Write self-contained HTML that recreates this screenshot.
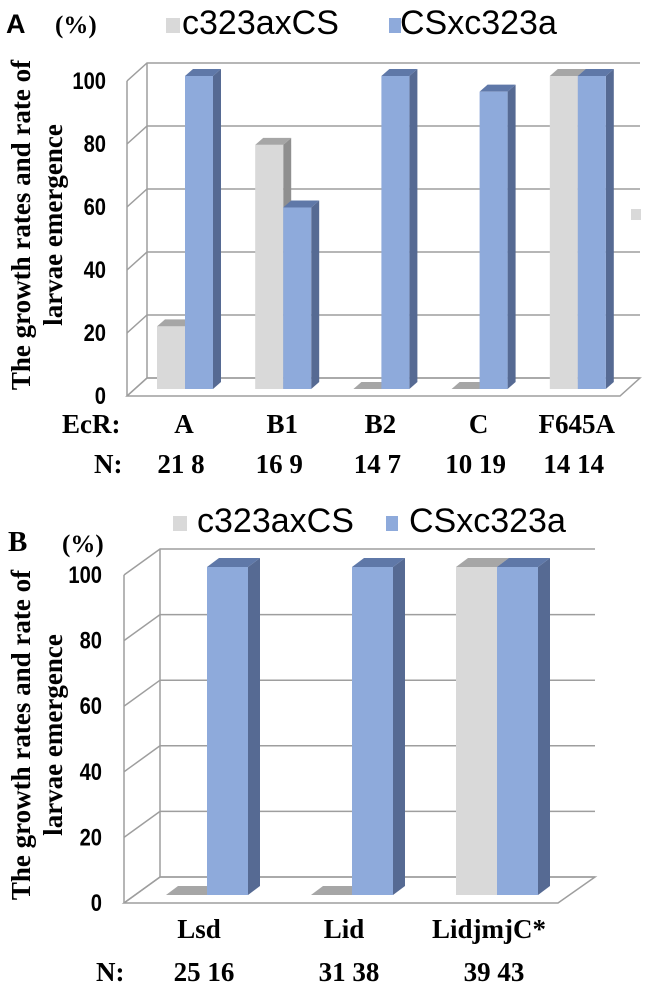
<!DOCTYPE html>
<html><head><meta charset="utf-8"><style>
html,body{margin:0;padding:0;background:#fff;}
svg{display:block;}
.serif{font-family:"Liberation Serif",serif;font-weight:bold;}
.sans{font-family:"Liberation Sans",sans-serif;}
</style></head><body>
<svg id="fig" width="650" height="1000" viewBox="0 0 650 1000" xmlns="http://www.w3.org/2000/svg"></svg>
<script>
const catsA = ["A","B1","B2","C","F645A"];
const seriesA1 = [20,78,0,0,100];
const seriesA2 = [100,58,100,95,100];
const nA = ["21  8","16   9","14  7","10 19","14 14"];
const catsB = ["Lsd","Lid","LidjmjC*"];
const seriesB1 = [0,0,100];
const seriesB2 = [100,100,100];
const nB = ["25 16","31 38","39  43"];
const ticks = [0,20,40,60,80,100];
const legendNames = ["c323axCS","CSxc323a"];

const NS="http://www.w3.org/2000/svg";
const svg=document.getElementById('fig');
function mk(tag,attrs,parent,text){const e=document.createElementNS(NS,tag);for(const k in attrs)e.setAttribute(k,attrs[k]);if(text!==undefined)e.textContent=text;(parent||svg).appendChild(e);return e;}

function panel(cfg){
  const g=mk('g',{});
  
  
  const yBack=v=>cfg.back0-v*cfg.backScale;
  const yFront=v=>cfg.front0-v*cfg.backScale;
  ticks.forEach(t=>{
    const l=mk('polyline',{points:`${cfg.fx},${yFront(t)} ${cfg.bx},${yBack(t)} ${cfg.bxr},${yBack(t)}`,fill:'none',stroke:'#9e9e9e','stroke-width':1.5},g);
    
    
    const tx=mk('text',{y:yFront(t)+8,'text-anchor':'end','font-size':24,class:'sans','font-weight':'bold',transform:`scale(0.84,1)`},g,String(t));
    tx.setAttribute('x',(cfg.fx-cfg.tickGap)/0.84);
    
    
  });
  const ax=mk('line',{x1:cfg.fx,y1:yFront(0),x2:cfg.fx,y2:yFront(100),stroke:'#9e9e9e','stroke-width':1.5},g);
  
  mk('line',{x1:cfg.bx,y1:yBack(0),x2:cfg.bx,y2:yBack(100),stroke:'#9e9e9e','stroke-width':1.5},g);
  const fl=mk('polygon',{points:`${cfg.fx},${yFront(0)} ${cfg.bx},${yBack(0)} ${cfg.bxr},${yBack(0)} ${cfg.fxr},${yFront(0)}`,fill:'none',stroke:'#9e9e9e','stroke-width':1.5},g);
  
  const bar=(x,v,cols,nm)=>{
    const w=cfg.bw,b=cfg.barBase,h=v*cfg.barScale,dx=cfg.cdx,dy=cfg.cdy;
    const bg=mk('g',{},g);
    
    
    mk('polygon',{points:`${x+w},${b-h} ${x+w+dx},${b-h-dy} ${x+w+dx},${b-dy} ${x+w},${b}`,fill:cols[2]},bg);
    mk('polygon',{points:`${x},${b-h} ${x+dx},${b-h-dy} ${x+w+dx},${b-h-dy} ${x+w},${b-h}`,fill:cols[1]},bg);
    if(h>0.5) mk('rect',{x:x,y:b-h,width:w,height:h,fill:cols[0]},bg);
  };
  const gray=['#d9d9d9','#a6a6a6','#8f8f8f'], blue=['#8eaadb','#5f78a8','#566a93'];
  cfg.cats.forEach((c,i)=>{
    const x0=cfg.g0+i*cfg.gs;
    bar(x0-cfg.bw,cfg.s1[i],gray,'bar-'+legendNames[0]+'-'+c);
    bar(x0,cfg.s2[i],blue,'bar-'+legendNames[1]+'-'+c);
    const lt=mk('text',{x:x0+cfg.lblOff,y:cfg.lblY,'text-anchor':'middle','font-size':27,class:'serif'},g,c);
    
    const nt=mk('text',{x:x0+cfg.nOff,y:cfg.nY,'text-anchor':'middle','font-size':27,class:'serif','xml:space':'preserve'},g,cfg.n[i]);
    
  });
}

panel({name:'panel-a',cats:catsA,s1:seriesA1,s2:seriesA2,n:nA,
  fx:127,fxr:620,bx:147,bxr:640,back0:378,front0:396,backScale:3.15,tickGap:21,
  barBase:389,barScale:3.13,bw:28,cdx:8,cdy:7,g0:185,gs:98.2,
  lblOff:-1,lblY:433,nOff:-4,nY:473});
panel({name:'panel-b',cats:catsB,s1:seriesB1,s2:seriesB2,n:nB,
  fx:124,fxr:558,bx:160,bxr:595,back0:877,front0:903,backScale:3.28,tickGap:22,
  barBase:895,barScale:3.28,bw:41,cdx:12,cdy:9,g0:207,gs:145,
  lblOff:-8,lblY:938,nOff:-3,nY:981});

function T(attrs,txt,name){const t=mk('text',attrs,svg,txt);return t;}
T({x:6,y:33,'font-size':27,class:'sans','font-weight':'bold'},'A','panel-a-label');
T({x:55,y:33,'font-size':25,class:'serif'},'(%)','panel-a-unit');
T({x:8,y:551,'font-size':29,class:'serif'},'B','panel-b-label');
T({x:62,y:552,'font-size':25,class:'serif'},'(%)','panel-b-unit');
function legend(y,x1,x2,off1,off2,nm){
  const g=mk('g',{});
  mk('rect',{x:x1,y:y-16,width:14,height:15,fill:'#d9d9d9'},g);
  mk('text',{x:x1+off1,y:y,'font-size':34,class:'sans'},g,legendNames[0]);
  mk('rect',{x:x2,y:y-16,width:12,height:15,fill:'#8eaadb'},g);
  mk('text',{x:x2+off2,y:y,'font-size':34,class:'sans'},g,legendNames[1]);
}
legend(34,166,389,16,11,'legend-a');
legend(532,173,386,24,23,'legend-b');
function ytitle(cx,cy,nm){
  const t=mk('text',{transform:`translate(${cx},${cy}) rotate(-90)`,'text-anchor':'middle','font-size':27,class:'serif'},svg);
  
  mk('tspan',{x:0,y:0},t,'The growth rates and rate of');
  mk('tspan',{x:0,y:32},t,'larvae emergence');
}
ytitle(30,225,'y-axis-title-a');
ytitle(30,735,'y-axis-title-b');
T({x:62,y:433,'font-size':27,class:'serif'},'EcR:','ecr-label');
T({x:94,y:473,'font-size':27,class:'serif'},'N:','n-label-a');
T({x:96,y:981,'font-size':27,class:'serif'},'N:','n-label-b');
const frag=mk('rect',{x:631,y:209,width:10,height:11,fill:'#d9d9d9'});

</script>
</body></html>
